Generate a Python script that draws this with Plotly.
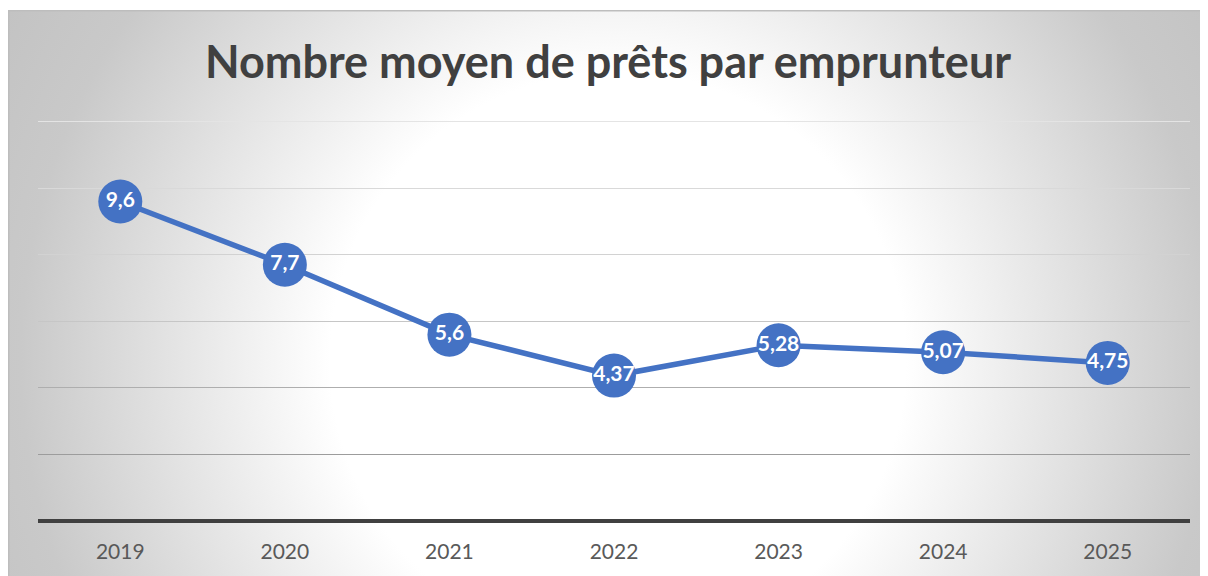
import base64
import plotly.graph_objects as go

years = ["2019", "2020", "2021", "2022", "2023", "2024", "2025"]
values = [9.6, 7.7, 5.6, 4.37, 5.28, 5.07, 4.75]
labels = ["9,6", "7,7", "5,6", "4,37", "5,28", "5,07", "4,75"]
title_text = "Nombre moyen de prêts par emprunteur"

grid_values = [2, 4, 6, 8, 10, 12]
grid_colors = ["#9c9c9c", "#aeaeae", "#c6c6c6", "#d2d2d2", "#d9d9d9", "#e4e4e4"]

# figure is placed at (8, 8) in the page by the default body margin
W, H = 1200, 568
ML, MR, MT, MB = 30, 18, 97, 55
pw, ph = W - ML - MR, H - MT - MB
YR = [0, 12.5]

BW, BH = 1200, 566
svg = (
    f'<svg xmlns="http://www.w3.org/2000/svg" width="{BW}" height="{BH}" preserveAspectRatio="none">'
    '<defs><radialGradient id="g" cx="610" cy="350" r="720" gradientUnits="userSpaceOnUse">'
    '<stop offset="0" stop-color="#ffffff"/>'
    '<stop offset="0.40" stop-color="#ffffff"/>'
    '<stop offset="0.83" stop-color="#c9c9c9"/>'
    '<stop offset="1" stop-color="#c2c2c2"/>'
    '</radialGradient></defs>'
    f'<rect x="0" y="0" width="{BW}" height="{BH}" fill="url(#g)"/>'
    f'<path d="M0.75 {BH} L0.75 0.75 L{BW} 0.75" fill="none" stroke="#bdbdbd" stroke-width="1.5"/>'
    '</svg>'
)
src = "data:image/svg+xml;base64," + base64.b64encode(svg.encode()).decode()

fig = go.Figure()

layout_axes = {}
for i, (gv, gc) in enumerate(zip(grid_values, grid_colors), start=2):
    fig.add_trace(go.Scatter(x=[], y=[], yaxis=f"y{i}", showlegend=False, hoverinfo="skip"))
    layout_axes[f"yaxis{i}"] = dict(
        overlaying="y", anchor="x", range=YR, tickvals=[gv], showticklabels=False,
        showgrid=True, gridcolor=gc, gridwidth=1.3, zeroline=False, showline=False, ticks="",
    )

fig.add_trace(go.Scatter(
    x=years, y=values, mode="lines+markers+text",
    text=labels, textposition="middle center",
    textfont=dict(family="Lato", size=21, color="white", weight="bold"),
    line=dict(color="#4472C4", width=5.5),
    marker=dict(size=44, color="#4472C4"),
    hoverinfo="skip", showlegend=False, cliponaxis=False,
))

fig.add_layout_image(dict(
    source=src, xref="paper", yref="paper",
    x=(0 - ML) / pw, y=(H - MB - 2) / ph,
    sizex=BW / pw, sizey=BH / ph,
    xanchor="left", yanchor="top", sizing="stretch", layer="below",
))

fig.update_layout(
    width=W, height=H,
    margin=dict(l=ML, r=MR, t=MT, b=MB),
    paper_bgcolor="white", plot_bgcolor="rgba(0,0,0,0)",
    title=dict(text=title_text, x=0.5, xanchor="center", y=1 - 54 / H, yanchor="middle",
               font=dict(family="Lato", size=45, color="#404040", weight="bold")),
    xaxis=dict(type="category", range=[-0.5, 6.5], showgrid=False, showline=False,
               ticks="", tickfont=dict(family="Lato", size=21, color="#595959"),
               ticklabelstandoff=16),
    yaxis=dict(range=YR, showticklabels=False, showgrid=False,
               zeroline=True, zerolinecolor="#404040", zerolinewidth=3.5, showline=False),
    **layout_axes,
)

fig.write_html("out.html")
